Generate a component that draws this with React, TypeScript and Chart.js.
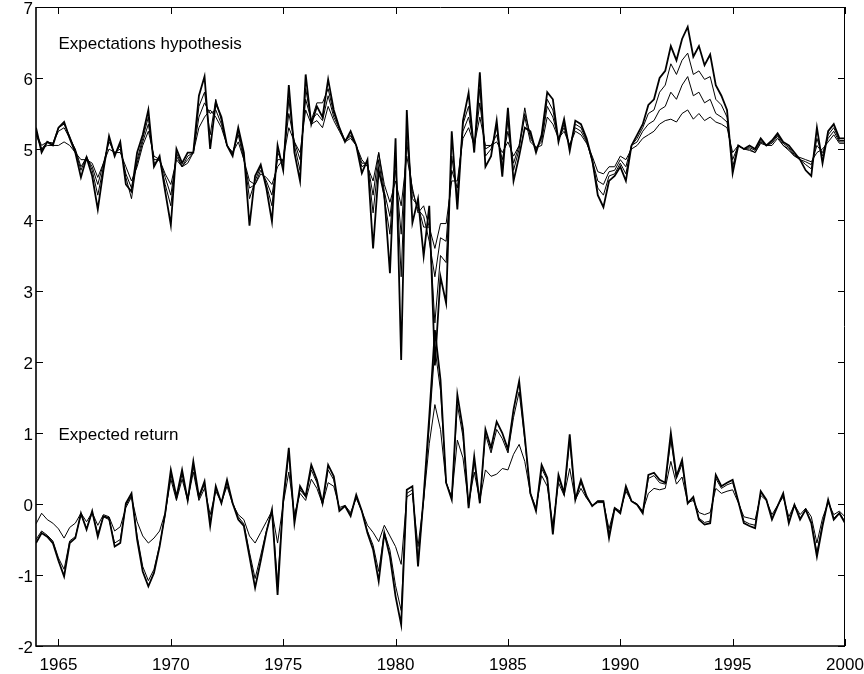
import React, { useEffect, useRef } from 'react';
import { Chart, registerables } from 'chart.js';

Chart.register(...registerables);

// Quarterly observation dates, 1964:1 to 2000:1
const START_YEAR = 1964;
const quarters: number[] = Array.from({ length: 145 }, (_, i) => START_YEAR + i / 4);

const xTickValues = [1965, 1970, 1975, 1980, 1985, 1990, 1995, 2000];
const yTickValues = [-2, -1, 0, 1, 2, 3, 4, 5, 6, 7];

// Expectations hypothesis (four maturities)
const eh1 = [
  5.30, 4.95, 5.10, 5.05, 5.30, 5.38, 5.15, 4.95, 4.60, 4.88, 4.62, 4.15,
  4.70, 5.18, 4.90, 5.10, 4.50, 4.40, 4.95, 5.20, 5.55, 4.75, 4.90, 4.40,
  3.93, 5.00, 4.80, 4.95, 4.95, 5.75, 6.02, 5.00, 5.65, 5.45, 5.05, 4.90,
  5.30, 4.95, 3.92, 4.62, 4.78, 4.45, 3.98, 5.05, 4.70, 5.90, 4.95, 4.55,
  6.05, 5.35, 5.60, 5.45, 5.98, 5.55, 5.30, 5.10, 5.25, 5.05, 4.66, 4.85,
  3.60, 4.70, 4.35, 3.25, 5.15, 2.03, 5.55, 3.96, 4.30, 3.49, 4.20, 1.95,
  3.20, 2.83, 5.25, 4.15, 5.40, 5.79, 4.95, 6.08, 4.75, 4.90, 5.40, 4.61,
  5.58, 4.55, 4.90, 5.30, 5.25, 4.95, 5.20, 5.80, 5.70, 5.10, 5.42, 4.97,
  5.40, 5.35, 5.15, 4.85, 4.35, 4.18, 4.55, 4.62, 4.75, 4.55, 5.05, 5.20,
  5.35, 5.62, 5.70, 6.00, 6.10, 6.45, 6.25, 6.55, 6.72, 6.30, 6.45, 6.18,
  6.33, 5.90, 5.75, 5.55, 4.66, 5.05, 5.00, 5.05, 5.00, 5.15, 5.05, 5.12,
  5.22, 5.10, 5.05, 4.95, 4.85, 4.70, 4.62, 5.30, 4.80, 5.25, 5.35, 5.15,
  5.15,
];
const eh2 = [
  5.25, 5.00, 5.10, 5.08, 5.30, 5.35, 5.18, 4.98, 4.70, 4.90, 4.70, 4.35,
  4.75, 5.15, 4.92, 5.05, 4.60, 4.30, 4.85, 5.15, 5.45, 4.80, 4.85, 4.50,
  4.20, 4.95, 4.75, 4.90, 4.95, 5.60, 5.80, 5.20, 5.70, 5.40, 5.05, 4.92,
  5.25, 4.90, 4.30, 4.55, 4.75, 4.50, 4.20, 4.95, 4.80, 5.70, 5.05, 4.70,
  5.85, 5.40, 5.65, 5.65, 5.85, 5.50, 5.30, 5.12, 5.20, 5.05, 4.75, 4.80,
  4.10, 4.85, 4.30, 3.80, 4.90, 3.20, 5.30, 4.30, 4.20, 3.90, 3.90, 2.55,
  3.50, 3.40, 4.90, 4.30, 5.35, 5.60, 5.00, 5.85, 4.90, 5.00, 5.30, 4.75,
  5.40, 4.70, 5.00, 5.50, 5.20, 5.00, 5.15, 5.70, 5.55, 5.12, 5.35, 5.02,
  5.35, 5.30, 5.12, 4.82, 4.45, 4.35, 4.62, 4.65, 4.80, 4.65, 5.05, 5.15,
  5.30, 5.50, 5.55, 5.80, 5.90, 6.20, 6.05, 6.25, 6.35, 6.05, 6.10, 5.98,
  6.02, 5.70, 5.62, 5.45, 4.75, 5.05, 5.00, 5.02, 4.98, 5.12, 5.05, 5.10,
  5.20, 5.08, 5.02, 4.92, 4.85, 4.78, 4.72, 5.15, 4.90, 5.20, 5.30, 5.12,
  5.12,
];
const eh3 = [
  5.22, 5.05, 5.10, 5.08, 5.25, 5.30, 5.15, 5.00, 4.75, 4.88, 4.75, 4.50,
  4.80, 5.10, 4.95, 5.00, 4.65, 4.45, 4.80, 5.10, 5.35, 4.85, 4.85, 4.60,
  4.35, 4.90, 4.75, 4.85, 4.95, 5.45, 5.65, 5.50, 5.55, 5.35, 5.05, 4.95,
  5.20, 4.85, 4.45, 4.50, 4.70, 4.55, 4.35, 4.85, 4.85, 5.50, 5.10, 4.85,
  5.70, 5.40, 5.50, 5.40, 5.75, 5.45, 5.28, 5.12, 5.18, 5.05, 4.80, 4.80,
  4.35, 4.95, 4.40, 4.05, 4.70, 3.80, 5.10, 4.40, 4.15, 4.05, 3.70, 3.20,
  3.75, 3.70, 4.70, 4.45, 5.25, 5.45, 5.05, 5.65, 5.00, 5.05, 5.20, 4.85,
  5.25, 4.80, 5.05, 5.58, 5.15, 5.02, 5.10, 5.60, 5.45, 5.15, 5.30, 5.05,
  5.30, 5.25, 5.10, 4.85, 4.55, 4.50, 4.68, 4.70, 4.85, 4.75, 5.05, 5.10,
  5.25, 5.35, 5.40, 5.55, 5.60, 5.80, 5.70, 5.90, 6.02, 5.75, 5.80, 5.65,
  5.70, 5.50, 5.45, 5.38, 4.85, 5.05, 5.00, 5.00, 4.95, 5.10, 5.05, 5.08,
  5.18, 5.05, 5.00, 4.90, 4.85, 4.82, 4.78, 5.05, 4.95, 5.15, 5.25, 5.10,
  5.10,
];
const eh4 = [
  5.20, 5.00, 5.05, 5.05, 5.05, 5.10, 5.05, 4.95, 4.85, 4.85, 4.80, 4.60,
  4.80, 5.00, 4.95, 4.95, 4.75, 4.55, 4.75, 5.05, 5.25, 4.90, 4.85, 4.65,
  4.50, 4.85, 4.75, 4.80, 4.95, 5.30, 5.45, 5.55, 5.45, 5.30, 5.05, 4.95,
  5.10, 4.85, 4.55, 4.50, 4.65, 4.60, 4.50, 4.75, 4.85, 5.30, 5.10, 4.95,
  5.55, 5.35, 5.40, 5.30, 5.60, 5.40, 5.25, 5.10, 5.15, 5.05, 4.85, 4.75,
  4.55, 4.95, 4.50, 4.25, 4.55, 4.20, 4.90, 4.45, 4.10, 4.20, 3.90, 3.60,
  3.95, 3.95, 4.55, 4.55, 5.15, 5.30, 5.05, 5.45, 5.05, 5.05, 5.10, 4.95,
  5.10, 4.90, 5.05, 5.45, 5.10, 5.02, 5.05, 5.45, 5.35, 5.15, 5.25, 5.05,
  5.25, 5.20, 5.08, 4.90, 4.68, 4.65, 4.75, 4.75, 4.90, 4.85, 5.00, 5.05,
  5.15, 5.20, 5.25, 5.35, 5.40, 5.42, 5.38, 5.50, 5.55, 5.42, 5.50, 5.40,
  5.45, 5.38, 5.35, 5.30, 4.95, 5.05, 5.00, 4.98, 4.95, 5.08, 5.05, 5.05,
  5.15, 5.05, 4.98, 4.90, 4.88, 4.85, 4.82, 4.95, 5.00, 5.10, 5.20, 5.08,
  5.08,
];

// Expected return
const er1 = [
  -0.55, -0.41, -0.46, -0.55, -0.80, -1.02, -0.55, -0.48, -0.13, -0.36, -0.10, -0.46,
  -0.17, -0.20, -0.60, -0.55, 0.01, 0.15, -0.50, -0.95, -1.16, -0.97, -0.60, -0.13,
  0.48, 0.10, 0.48, 0.05, 0.60, 0.10, 0.32, -0.31, 0.25, 0.01, 0.34, 0.01,
  -0.22, -0.31, -0.74, -1.18, -0.80, -0.40, -0.08, -1.28, 0.05, 0.79, -0.27, 0.25,
  0.11, 0.55, 0.34, 0.01, 0.55, 0.39, -0.10, -0.03, -0.17, 0.13, -0.10, -0.41,
  -0.64, -1.09, -0.41, -0.74, -1.30, -1.70, 0.20, 0.25, -0.88, 0.11, 1.23, 2.45,
  1.75, 0.30, 0.06, 1.54, 1.05, -0.06, 0.67, 0.01, 1.05, 0.79, 1.16, 1.00,
  0.77, 1.33, 1.73, 0.95, 0.15, -0.10, 0.55, 0.37, -0.43, 0.41, 0.15, 0.98,
  0.06, 0.34, 0.11, -0.03, 0.04, 0.04, -0.48, -0.06, -0.13, 0.25, 0.04, -0.01,
  -0.13, 0.41, 0.44, 0.34, 0.30, 1.00, 0.39, 0.62, 0.01, 0.10, -0.22, -0.29,
  -0.27, 0.41, 0.25, 0.30, 0.34, 0.04, -0.27, -0.31, -0.34, 0.18, 0.06, -0.22,
  -0.03, 0.15, -0.27, -0.01, -0.22, -0.08, -0.27, -0.74, -0.31, 0.06, -0.22, -0.13,
  -0.27,
];
const er2 = [
  -0.50, -0.38, -0.44, -0.52, -0.76, -0.92, -0.52, -0.46, -0.15, -0.34, -0.12, -0.42,
  -0.18, -0.22, -0.55, -0.50, -0.02, 0.12, -0.45, -0.88, -1.08, -0.92, -0.58, -0.15,
  0.42, 0.08, 0.42, 0.05, 0.52, 0.08, 0.28, -0.25, 0.22, 0.02, 0.30, 0.02,
  -0.18, -0.28, -0.68, -1.05, -0.72, -0.38, -0.10, -1.10, 0.02, 0.70, -0.22, 0.20,
  0.10, 0.48, 0.30, 0.00, 0.48, 0.34, -0.08, -0.02, -0.15, 0.10, -0.10, -0.38,
  -0.58, -0.95, -0.40, -0.65, -1.15, -1.50, 0.15, 0.20, -0.80, 0.08, 1.10, 2.20,
  1.60, 0.30, 0.08, 1.40, 0.95, -0.04, 0.60, 0.02, 0.98, 0.72, 1.05, 0.92,
  0.72, 1.22, 1.58, 0.90, 0.14, -0.08, 0.50, 0.34, -0.38, 0.38, 0.14, 0.88,
  0.06, 0.30, 0.10, -0.02, 0.04, 0.04, -0.42, -0.06, -0.12, 0.22, 0.04, 0.00,
  -0.12, 0.36, 0.40, 0.30, 0.28, 0.90, 0.36, 0.56, 0.02, 0.08, -0.20, -0.26,
  -0.24, 0.36, 0.22, 0.27, 0.30, 0.04, -0.24, -0.28, -0.30, 0.16, 0.06, -0.20,
  -0.03, 0.13, -0.25, -0.02, -0.20, -0.08, -0.25, -0.68, -0.28, 0.05, -0.20, -0.12,
  -0.25,
];
const er3 = [
  -0.28, -0.13, -0.22, -0.27, -0.35, -0.48, -0.33, -0.27, -0.13, -0.25, -0.12, -0.30,
  -0.15, -0.18, -0.38, -0.32, -0.05, 0.10, -0.25, -0.45, -0.55, -0.48, -0.38, -0.12,
  0.35, 0.05, 0.35, 0.05, 0.45, 0.05, 0.22, -0.15, 0.18, 0.02, 0.25, 0.00,
  -0.15, -0.22, -0.45, -0.55, -0.40, -0.25, -0.10, -0.55, 0.00, 0.45, -0.15, 0.15,
  0.05, 0.35, 0.22, 0.00, 0.30, 0.25, -0.05, -0.02, -0.12, 0.08, -0.10, -0.30,
  -0.40, -0.53, -0.30, -0.45, -0.60, -0.85, 0.10, 0.15, -0.60, 0.05, 0.85, 1.40,
  1.05, 0.30, 0.10, 0.90, 0.65, 0.00, 0.45, 0.05, 0.48, 0.39, 0.42, 0.50,
  0.48, 0.70, 0.84, 0.60, 0.15, -0.05, 0.40, 0.25, -0.30, 0.30, 0.12, 0.50,
  0.06, 0.22, 0.08, -0.02, 0.02, 0.02, -0.35, -0.05, -0.10, 0.18, 0.04, 0.00,
  -0.10, 0.15, 0.22, 0.20, 0.22, 0.60, 0.28, 0.38, 0.02, 0.05, -0.12, -0.15,
  -0.12, 0.22, 0.15, 0.18, 0.20, 0.02, -0.18, -0.20, -0.22, 0.12, 0.05, -0.15,
  -0.02, 0.10, -0.18, -0.01, -0.15, -0.06, -0.18, -0.55, -0.20, 0.02, -0.15, -0.10,
  -0.18,
];

const annotations = [
  { text: 'Expectations hypothesis', x: 1965, y: 6.41 },
  { text: 'Expected return', x: 1965, y: 0.905 },
];

const FONT = "'Liberation Sans', Arial, Helvetica, sans-serif";

const toPoints = (vals: number[]) => vals.map((v, i) => ({ x: quarters[i], y: v }));

const framePlugin = {
  id: 'frameAndTicks',
  afterDraw(chart: any) {
    const { ctx, chartArea } = chart;
    const xs = chart.scales.x;
    const ys = chart.scales.y;
    const { left, right, top, bottom } = chartArea;
    const tl = 7;
    ctx.save();
    ctx.strokeStyle = '#000';
    ctx.lineWidth = 1;
    ctx.beginPath();
    ctx.moveTo(left, top + 0.5);
    ctx.lineTo(right, top + 0.5);
    ctx.moveTo(right - 0.5, top);
    ctx.lineTo(right - 0.5, bottom);
    ctx.stroke();
    ctx.lineWidth = 1.6;
    ctx.beginPath();
    ctx.moveTo(left, top);
    ctx.lineTo(left, bottom);
    ctx.lineTo(right, bottom);
    ctx.stroke();
    ctx.lineWidth = 1;
    ctx.beginPath();
    xTickValues.forEach((v) => {
      const px = Math.round(xs.getPixelForValue(v)) + 0.5;
      ctx.moveTo(px, top);
      ctx.lineTo(px, top + tl);
      ctx.moveTo(px, bottom);
      ctx.lineTo(px, bottom - tl);
    });
    yTickValues.forEach((v) => {
      const py = Math.round(ys.getPixelForValue(v)) + 0.5;
      ctx.moveTo(left, py);
      ctx.lineTo(left + tl, py);
      ctx.moveTo(right, py);
      ctx.lineTo(right - tl, py);
    });
    ctx.stroke();
    ctx.fillStyle = '#000';
    ctx.font = `17px ${FONT}`;
    ctx.textAlign = 'left';
    ctx.textBaseline = 'alphabetic';
    annotations.forEach((a) => {
      ctx.fillText(a.text, xs.getPixelForValue(a.x), ys.getPixelForValue(a.y));
    });
    ctx.restore();
  },
};

export default function App() {
  const ref = useRef<HTMLCanvasElement | null>(null);
  useEffect(() => {
    if (!ref.current) return;
    const line = (data: number[], w: number) => ({
      data: toPoints(data),
      borderColor: '#000',
      borderWidth: w,
      pointRadius: 0,
      tension: 0,
      fill: false,
    });
    const chart = new Chart(ref.current, {
      type: 'line',
      data: {
        datasets: [
          line(eh4, 1),
          line(eh3, 1),
          line(eh2, 1),
          line(eh1, 1.8),
          line(er3, 1),
          line(er2, 1),
          line(er1, 1.8),
        ],
      },
      options: {
        animation: false,
        responsive: false,
        events: [],
        layout: { padding: { left: 0, right: 19, top: 7, bottom: 0 } },
        plugins: { legend: { display: false }, tooltip: { enabled: false } },
        scales: {
          x: {
            type: 'linear',
            min: 1964,
            max: 2000,
            afterBuildTicks: (s: any) => {
              s.ticks = xTickValues.map((v) => ({ value: v }));
            },
            afterFit: (s: any) => {
              s.height = 28;
              s.paddingLeft = 0;
              s.paddingRight = 0;
            },
            grid: { display: false, drawTicks: false },
            border: { display: false },
            ticks: {
              color: '#000',
              font: { family: FONT, size: 17 },
              padding: 9,
              maxRotation: 0,
              autoSkip: false,
              callback: (v: any) => String(v),
            },
          },
          y: {
            type: 'linear',
            min: -2,
            max: 7,
            afterBuildTicks: (s: any) => {
              s.ticks = yTickValues.map((v) => ({ value: v }));
            },
            afterFit: (s: any) => {
              s.width = 36;
              s.paddingTop = 0;
              s.paddingBottom = 0;
            },
            grid: { display: false, drawTicks: false },
            border: { display: false },
            ticks: {
              color: '#000',
              font: { family: FONT, size: 17 },
              padding: 3,
              labelOffset: 2,
              callback: (v: any) => String(v),
            },
          },
        },
      },
      plugins: [framePlugin],
    });
    return () => chart.destroy();
  }, []);
  return (
    <div style={{ position: 'fixed', left: 0, top: 0, width: 864, height: 674, background: '#fff' }}>
      <canvas ref={ref} width={864} height={674} style={{ display: 'block' }} />
    </div>
  );
}
